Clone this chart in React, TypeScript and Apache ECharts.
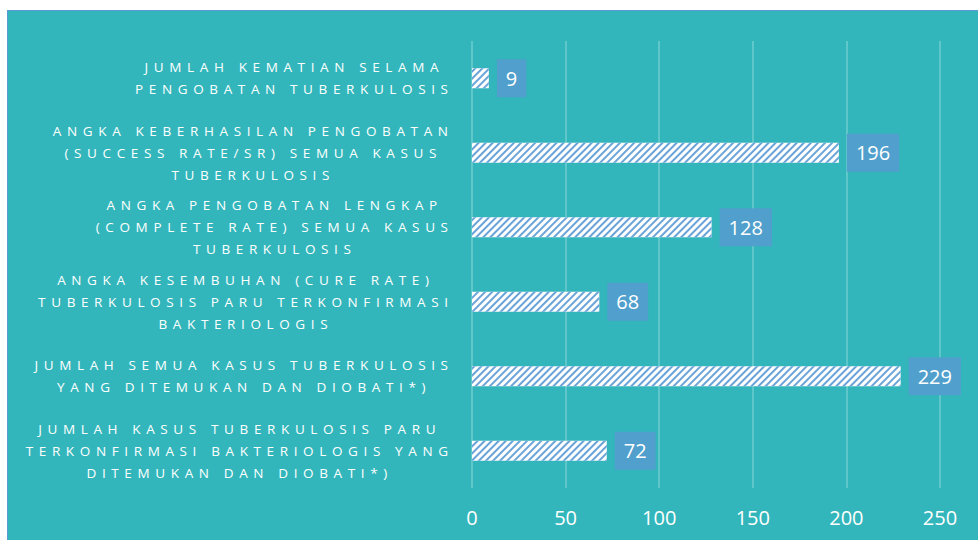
import React, { useEffect, useRef } from "react";
import * as echarts from "echarts";

const categories: string[] = [
  "JUMLAH KEMATIAN SELAMA\nPENGOBATAN TUBERKULOSIS",
  "ANGKA KEBERHASILAN PENGOBATAN\n(SUCCESS RATE/SR) SEMUA KASUS\nTUBERKULOSIS",
  "ANGKA PENGOBATAN LENGKAP\n(COMPLETE RATE) SEMUA KASUS\nTUBERKULOSIS",
  "ANGKA KESEMBUHAN (CURE RATE)\nTUBERKULOSIS PARU TERKONFIRMASI\nBAKTERIOLOGIS",
  "JUMLAH SEMUA KASUS TUBERKULOSIS\nYANG DITEMUKAN DAN DIOBATI*)",
  "JUMLAH KASUS TUBERKULOSIS PARU\nTERKONFIRMASI BAKTERIOLOGIS YANG\nDITEMUKAN DAN DIOBATI*)",
];
const values: number[] = [9, 196, 128, 68, 229, 72];
const axisMin = 0;
const axisMax = 250;
const axisStep = 50;

const FONT = "'Open Sans', 'Noto Sans', sans-serif";

function spaced(line: string): string {
  return Array.from(line).join("\u2005\u2006");
}

export default function App() {
  const ref = useRef<HTMLDivElement>(null);
  useEffect(() => {
    if (!ref.current) return;
    const chart = echarts.init(ref.current, undefined, { renderer: "svg" });
    chart.setOption({
      animation: false,
      backgroundColor: "#32B6BB",
      grid: { left: 464, right: 38, top: 30, bottom: 52, containLabel: false },
      xAxis: {
        type: "value",
        min: axisMin,
        max: axisMax,
        interval: axisStep,
        axisLine: { show: false },
        axisTick: { show: false },
        splitLine: { show: true, lineStyle: { color: "rgba(255,255,255,0.3)", width: 1.5 } },
        axisLabel: { color: "#ffffff", fontSize: 20, fontFamily: FONT, margin: 19 },
      },
      yAxis: {
        type: "category",
        inverse: true,
        data: categories,
        axisLine: { show: false },
        axisTick: { show: false },
        axisLabel: {
          margin: 24,
          align: "right",
          formatter: (v: string) =>
            v
              .split("\n")
              .map((l) => `{c|${spaced(l)}}`)
              .join("\n"),
          rich: {
            c: {
              align: "center",
              fontSize: 13.5,
              lineHeight: 22,
              color: "#ffffff",
              fontFamily: FONT,
            },
          },
        },
      },
      series: [
        {
          type: "bar",
          data: values,
          barWidth: 20,
          itemStyle: {
            color: "#ffffff",
            decal: {
              symbol: "rect",
              symbolSize: 1,
              dashArrayX: [[1, 0]],
              dashArrayY: [2, 3],
              rotation: -Math.PI / 4,
              color: "#6AA3D8",
            },
          },
          label: {
            show: true,
            position: "right",
            distance: 8,
            color: "#ffffff",
            fontSize: 20,
            fontFamily: FONT,
            backgroundColor: "#519FCC",
            padding: [8, 9, 8, 9],
            lineHeight: 22,
          },
        },
      ],
    });
    return () => chart.dispose();
  }, []);
  return (
    <div style={{ position: "absolute", left: 7, top: 10, width: 971, height: 530, background: "#5B9BD5" }}>
      <div ref={ref} style={{ position: "absolute", left: 1, top: 1, width: 970, height: 529 }} />
    </div>
  );
}
